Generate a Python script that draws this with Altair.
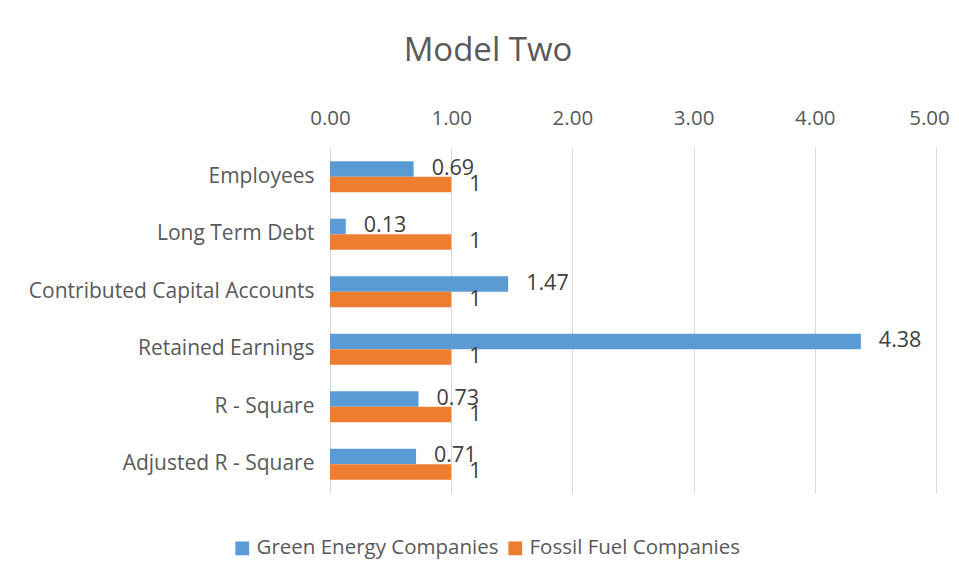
import altair as alt
import pandas as pd

categories = ["Employees", "Long Term Debt", "Contributed Capital Accounts",
              "Retained Earnings", "R - Square", "Adjusted R - Square"]
green = [0.69, 0.13, 1.47, 4.38, 0.73, 0.71]
fossil = [1, 1, 1, 1, 1, 1]
green_labels = ["0.69", "0.13", "1.47", "4.38", "0.73", "0.71"]
fossil_labels = ["1", "1", "1", "1", "1", "1"]
series = ["Green Energy Companies", "Fossil Fuel Companies"]
colors = ["#5b9bd5", "#ed7d31"]
x_ticks = [0, 1, 2, 3, 4, 5]

rows = []
for c, g, f, gl, fl in zip(categories, green, fossil, green_labels, fossil_labels):
    rows.append({"cat": c, "series": series[0], "value": g, "label": gl})
    rows.append({"cat": c, "series": series[1], "value": f, "label": fl})
df = pd.DataFrame(rows)

FONT = "Open Sans"

y_enc = alt.Y("cat:N", sort=categories, title=None,
              scale=alt.Scale(paddingInner=0.46, paddingOuter=0.23),
              axis=alt.Axis(labelFontSize=21, labelColor="#595959", labelFont=FONT,
                            ticks=False, domainColor="#d9d9d9", labelPadding=16,
                            labelLimit=400))
yoff = alt.YOffset("series:N", sort=series)

bars = alt.Chart(df).mark_bar().encode(
    x=alt.X("value:Q", title=None,
            scale=alt.Scale(domain=[0, 5], nice=False),
            axis=alt.Axis(orient="top", values=x_ticks, format=".2f",
                          labelFontSize=20.5, labelColor="#595959", labelFont=FONT,
                          ticks=False, domain=False, gridColor="#d9d9d9",
                          labelPadding=20, labelFlush=False, labelOverlap=False,
                          labelOffset=alt.expr("datum.value == 5 ? -7 : 0"))),
    y=y_enc,
    yOffset=yoff,
    color=alt.Color("series:N", sort=series,
                    scale=alt.Scale(domain=series, range=colors),
                    legend=alt.Legend(title=None, orient="none", direction="horizontal",
                                      legendX=-98, legendY=390,
                                      symbolType="square", symbolSize=190,
                                      symbolStrokeWidth=0,
                                      labelFontSize=20.5, labelColor="#595959",
                                      labelFont=FONT, columnPadding=6,
                                      labelLimit=400)),
)

texts = alt.Chart(df).mark_text(align="left", baseline="middle", dx=18,
                                fontSize=21.5, color="#404040", font=FONT).encode(
    x="value:Q",
    y=alt.Y("cat:N", sort=categories),
    yOffset=yoff,
    text="label:N",
)

chart = alt.layer(bars, texts).properties(
    width=606, height=345,
    autosize=alt.AutoSizeParams(type="none"),
    padding={"left": 322, "top": 140, "right": 15, "bottom": 81},
    title=alt.TitleParams("Model Two", fontSize=33, color="#595959", font=FONT,
                          fontWeight="normal", anchor="middle", dx=-145, offset=40),
).configure(background="white").configure_view(strokeWidth=0, stroke=None)

chart.save("out.html", embed_options={"renderer": "svg", "actions": False})
